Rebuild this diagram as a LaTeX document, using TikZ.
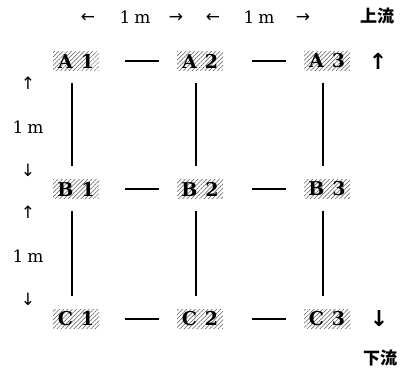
\documentclass[tikz,border=0pt]{standalone}
\usepackage{fontspec}
\setmainfont{DejaVu Serif}
\newfontfamily\cjk{Noto Sans CJK JP}
\newfontfamily\arrowfont{DejaVu Sans}
\usetikzlibrary{patterns.meta, positioning}

\begin{document}
\begin{tikzpicture}[
        x=1pt, y=-1pt,
        point/.style={rectangle, pattern={Lines[angle=45, distance=3pt, line width=0.5pt]}, pattern color=black!65, minimum width=46pt, minimum height=19pt, inner sep=0pt, font=\bfseries\fontsize{19}{21}\selectfont},
        dim/.style={font=\fontsize{17}{19}\selectfont},
        tip/.style={font=\arrowfont\fontsize{17}{19}\selectfont},
        flowtip/.style={font=\arrowfont\bfseries\fontsize{22}{24}\selectfont},
        flow/.style={font=\cjk\bfseries\fontsize{17}{19}\selectfont},
        hlink/.style={line width=1.2pt, draw=black},
        vlink/.style={line width=1.2pt, draw=black, shorten <=12pt, shorten >=13pt}
    ]
        \useasboundingbox (0,0) rectangle (409,373);

        % measuring points
        \node[point] (A1) at (76,61) {A\hspace{8pt}1};
        \node[point] (A2) at (200,61) {A\hspace{8pt}2};
        \node[point] (A3) at (327,61) {A\hspace{8pt}3};
        \node[point] (B1) at (76,189) {B\hspace{8pt}1};
        \node[point] (B2) at (200,189) {B\hspace{8pt}2};
        \node[point] (B3) at (327,189) {B\hspace{8pt}3};
        \node[point] (C1) at (76,319) {C\hspace{8pt}1};
        \node[point] (C2) at (200,319) {C\hspace{8pt}2};
        \node[point] (C3) at (327,319) {C\hspace{8pt}3};

        % spacing marks
        \node[tip] (t1) at (88,18) {←};
        \node[dim] (d1) at (135,17) {1\hspace{4pt}m};
        \node[tip] (t2) at (176,18) {→};
        \node[tip] (t3) at (213,18) {←};
        \node[dim] (d2) at (259,17) {1\hspace{4pt}m};
        \node[tip] (t4) at (303,18) {→};
        \node[tip] (l1) at (28,83) {↑};
        \node[dim] (d3) at (28,127) {1\hspace{4pt}m};
        \node[tip] (l2) at (28,170) {↓};
        \node[tip] (l3) at (28,212) {↑};
        \node[dim] (d4) at (28,256) {1\hspace{4pt}m};
        \node[tip] (l4) at (28,299) {↓};

        % flow direction
        \node[flow] (up) at (377,16) {上流};
        \node[flowtip] (upar) at (378,61) {↑};
        \node[flowtip] (dnar) at (379,319) {↓};
        \node[flow] (down) at (380,358) {下流};

        \foreach \r in {A,B,C} {
            \draw[hlink, shorten <=26pt, shorten >=18pt] (\r1) -- (\r2);
            \draw[hlink, shorten <=29pt, shorten >=18pt] (\r2) -- (\r3);
        }
        \foreach \c in {1,2,3} {
            \draw[vlink] ([xshift=-4pt]A\c.south) -- ([xshift=-4pt]B\c.north);
            \draw[vlink] ([xshift=-4pt]B\c.south) -- ([xshift=-4pt]C\c.north);
        }
    \end{tikzpicture}
\end{document}
